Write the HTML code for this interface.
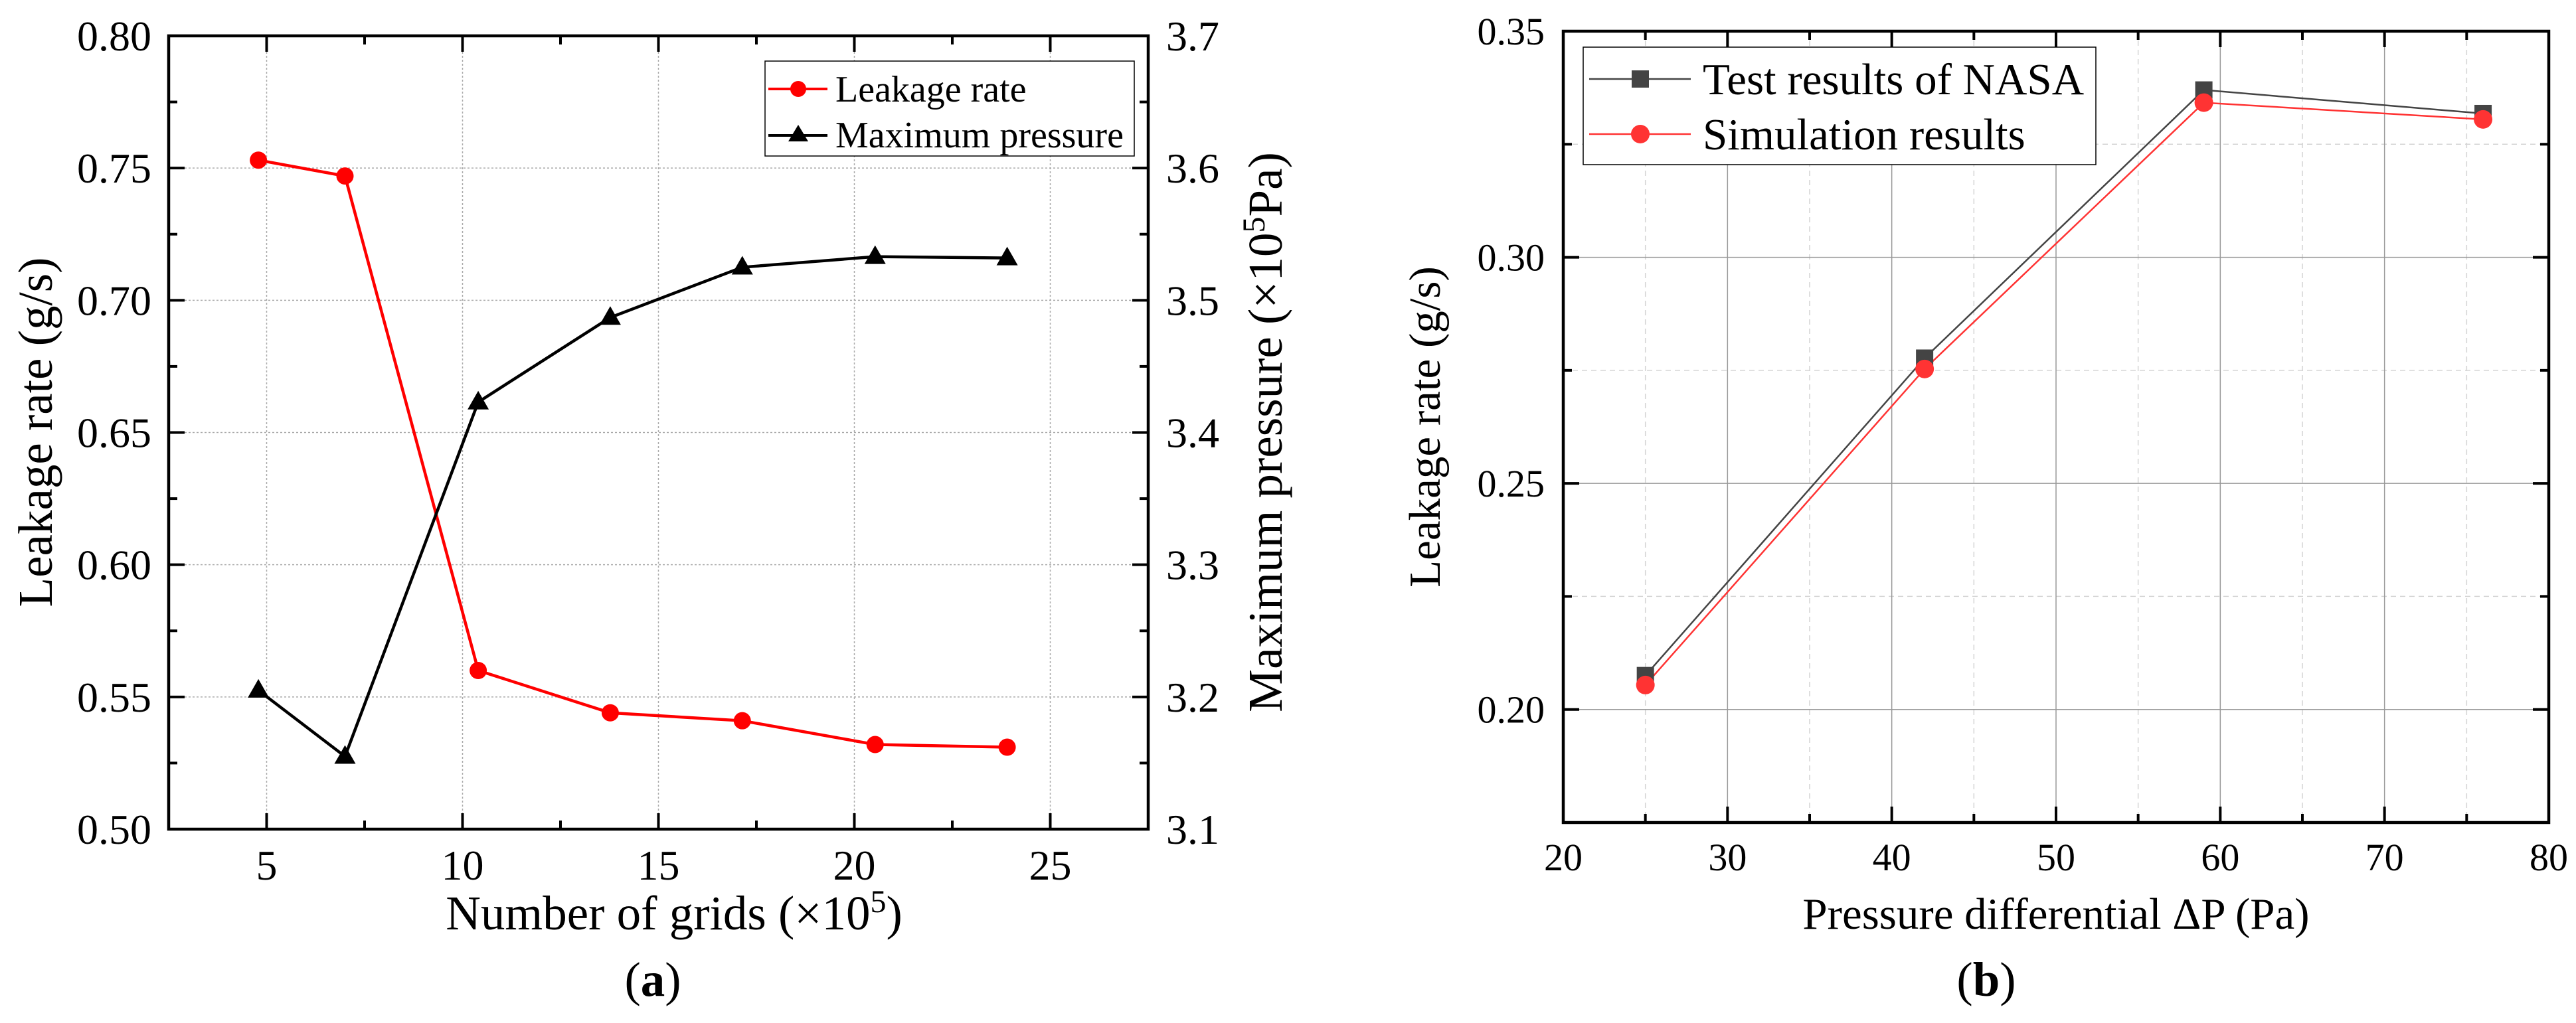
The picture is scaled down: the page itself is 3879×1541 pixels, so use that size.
<!DOCTYPE html>
<html><head><meta charset="utf-8">
<style>
html,body{margin:0;padding:0;background:#fff;font-family:"Liberation Serif","Times New Roman",serif;}
svg, svg text{font-family:"Liberation Serif","Times New Roman",serif;}
svg{display:block;}
</style></head>
<body>
<svg id="fig" width="3879" height="1541" viewBox="0 0 3879 1541" xmlns="http://www.w3.org/2000/svg" font-family="Liberation Serif, serif">
<rect width="3879" height="1541" fill="#fff"/>
<g id="chartA"></g>
<g id="chartB"></g>
</svg>
<script>
// ---- Chart (a) data ----
const gridsX = [4.79, 7.0, 10.4, 13.77, 17.14, 20.53, 23.9];
const leakageA = [0.753, 0.747, 0.560, 0.544, 0.541, 0.532, 0.531];
const pressureA = [3.205, 3.155, 3.423, 3.487, 3.525, 3.533, 3.532];
const aXTicks = [5, 10, 15, 20, 25];
const aYTicks = ["0.50","0.55","0.60","0.65","0.70","0.75","0.80"];
const aY2Ticks = ["3.1","3.2","3.3","3.4","3.5","3.6","3.7"];
// ---- Chart (b) data ----
const dpX = [25, 42, 59, 76];
const nasaB = [0.2075, 0.2777, 0.337, 0.3318];
const simB = [0.2054, 0.2753, 0.3342, 0.3305];
const bXTicks = [20, 30, 40, 50, 60, 70, 80];
const bYTicks = ["0.20","0.25","0.30","0.35"];

const NS = "http://www.w3.org/2000/svg";
const FONT = '"Liberation Serif", "Times New Roman", serif';
function mk(parent, tag, attrs, text){
  const e = document.createElementNS(NS, tag);
  for (const k in attrs) e.setAttribute(k, attrs[k]);
  if (tag === 'text') e.style.fontFamily = FONT;
  if (text !== undefined) e.textContent = text;
  parent.appendChild(e);
  return e;
}

// ===== Chart A =====
(function(){
  const g = document.getElementById('chartA');
  const L=254, R=1729, T=54, B=1249;
  const x = v => L + (v-2.5)/25*(R-L);
  const y = v => B - (v-0.50)/0.30*(B-T);
  const y2 = v => B - (v-3.1)/0.6*(B-T);
  aXTicks.forEach(t=>{
    const l = mk(g,'line',{x1:x(t),x2:x(t),y1:T,y2:B,stroke:'#aaa','stroke-width':1.5,'stroke-dasharray':'3,3'});
    
    
  });
  aYTicks.forEach(t=>{
    const v=parseFloat(t); if(v<=0.5||v>=0.8) return;
    const l = mk(g,'line',{x1:L,x2:R,y1:y(v),y2:y(v),stroke:'#aaa','stroke-width':1.5,'stroke-dasharray':'3,3'});
    
    
  });
  const tk = mk(g,'g',{stroke:'#000','stroke-width':4});
  
  
  for(let v=5; v<=27.5; v+=2.5){
    const len = (v%5===0)?24:13;
    mk(tk,'line',{x1:x(v),x2:x(v),y1:B,y2:B-len});
    mk(tk,'line',{x1:x(v),x2:x(v),y1:T,y2:T+len});
  }
  for(let i=1;i<12;i++){
    const v=0.5+i*0.025, len=(i%2===0)?24:13;
    mk(tk,'line',{x1:L,x2:L+len,y1:y(v),y2:y(v)});
    mk(tk,'line',{x1:R,x2:R-len,y1:y(v),y2:y(v)});
  }
  const fr = mk(g,'rect',{x:L,y:T,width:R-L,height:B-T,fill:'none',stroke:'#000','stroke-width':4.5});
  
  
  aXTicks.forEach(t=>{
    const e = mk(g,'text',{x:x(t),y:1325,'font-size':64,'text-anchor':'middle'},String(t));
    
    
  });
  aYTicks.forEach(t=>{
    const e = mk(g,'text',{x:228,y:y(parseFloat(t))+22,'font-size':64,'text-anchor':'end'},t);
    
    
  });
  aY2Ticks.forEach(t=>{
    const e = mk(g,'text',{x:1756,y:y2(parseFloat(t))+22,'font-size':64,'text-anchor':'start'},t);
    
    
  });
  let e = mk(g,'text',{x:0,y:0,'font-size':73,'text-anchor':'middle',transform:'translate(78,651) rotate(-90)'},'Leakage rate (g/s)');
  
  
  e = mk(g,'text',{x:0,y:0,'font-size':73,'text-anchor':'middle',transform:'translate(1930,651) rotate(-90)'});
  
  
  e.innerHTML = 'Maximum pressure (×10<tspan dy="-26" font-size="48">5</tspan><tspan dy="26">Pa)</tspan>';
  e = mk(g,'text',{x:1015,y:1400,'font-size':73,'text-anchor':'middle'});
  
  
  e.innerHTML = 'Number of grids (×10<tspan dy="-26" font-size="48">5</tspan><tspan dy="26">)</tspan>';
  e = mk(g,'text',{x:983,y:1500,'font-size':73,'text-anchor':'middle'});
  
  
  e.innerHTML = '(<tspan font-weight="bold">a</tspan>)';
  const pl = mk(g,'polyline',{points:gridsX.map((v,i)=>x(v)+','+y(leakageA[i])).join(' '),fill:'none',stroke:'#f00','stroke-width':4.5});
  
  
  const pp = mk(g,'polyline',{points:gridsX.map((v,i)=>x(v)+','+y2(pressureA[i])).join(' '),fill:'none',stroke:'#000','stroke-width':4.5});
  
  
  gridsX.forEach((v,i)=>{
    const c = mk(g,'circle',{cx:x(v),cy:y(leakageA[i]),r:13,fill:'#f00'});
    
    
    const px=x(v), py=y2(pressureA[i]);
    const t = mk(g,'polygon',{points:`${px},${py-17} ${px-16},${py+11} ${px+16},${py+11}`,fill:'#000'});
    
    
  });
  const lg = mk(g,'g',{});
  
  
  mk(lg,'rect',{x:1152,y:92,width:556,height:143,fill:'#fff',stroke:'#000','stroke-width':1.5});
  mk(lg,'line',{x1:1157,x2:1246,y1:134,y2:134,stroke:'#f00','stroke-width':4});
  mk(lg,'circle',{cx:1202,cy:134,r:12,fill:'#f00'});
  let le = mk(lg,'text',{x:1258,y:153,'font-size':56},'Leakage rate');
  
  
  mk(lg,'line',{x1:1157,x2:1246,y1:204,y2:204,stroke:'#000','stroke-width':4});
  mk(lg,'polygon',{points:'1202,188 1187,213 1217,213',fill:'#000'});
  le = mk(lg,'text',{x:1258,y:222,'font-size':56},'Maximum pressure');
  
  
})();

// ===== Chart B =====
(function(){
  const g = document.getElementById('chartB');
  const L=2354, R=3838, T=47, B=1239;
  const x = v => L + (v-20)/60*(R-L);
  const y = v => B - (v-0.175)/0.175*(B-T);
  for(let v=25; v<80; v+=10){
    const l = mk(g,'line',{x1:x(v),x2:x(v),y1:T,y2:B,stroke:'#d4d4d4','stroke-width':1.5,'stroke-dasharray':'8,6'});
    
    
  }
  [0.225,0.275,0.325].forEach(v=>{
    const l = mk(g,'line',{x1:L,x2:R,y1:y(v),y2:y(v),stroke:'#d4d4d4','stroke-width':1.5,'stroke-dasharray':'8,6'});
    
    
  });
  bXTicks.forEach(t=>{
    if(t===20||t===80) return;
    const l = mk(g,'line',{x1:x(t),x2:x(t),y1:T,y2:B,stroke:'#999','stroke-width':1.5});
    
    
  });
  bYTicks.forEach(t=>{
    const v=parseFloat(t); if(v>=0.35) return;
    const l = mk(g,'line',{x1:L,x2:R,y1:y(v),y2:y(v),stroke:'#999','stroke-width':1.5});
    
    
  });
  const tk = mk(g,'g',{stroke:'#000','stroke-width':4});
  
  
  for(let v=25; v<80; v+=5){
    const len=(v%10===0)?24:13;
    mk(tk,'line',{x1:x(v),x2:x(v),y1:B,y2:B-len});
    mk(tk,'line',{x1:x(v),x2:x(v),y1:T,y2:T+len});
  }
  [0.2,0.225,0.25,0.275,0.3,0.325].forEach((v,i)=>{
    const len=(i%2===0)?24:13;
    mk(tk,'line',{x1:L,x2:L+len,y1:y(v),y2:y(v)});
    mk(tk,'line',{x1:R,x2:R-len,y1:y(v),y2:y(v)});
  });
  const fr = mk(g,'rect',{x:L,y:T,width:R-L,height:B-T,fill:'none',stroke:'#000','stroke-width':4.5});
  
  
  bXTicks.forEach(t=>{
    const e = mk(g,'text',{x:x(t),y:1311,'font-size':58,'text-anchor':'middle'},String(t));
    
    
  });
  bYTicks.forEach(t=>{
    const e = mk(g,'text',{x:2326,y:y(parseFloat(t))+20,'font-size':58,'text-anchor':'end'},t);
    
    
  });
  let e = mk(g,'text',{x:0,y:0,'font-size':67,'text-anchor':'middle',transform:'translate(2168,643) rotate(-90)'},'Leakage rate (g/s)');
  
  
  e = mk(g,'text',{x:3096,y:1399,'font-size':67,'text-anchor':'middle'},'Pressure differential ΔP (Pa)');
  
  
  e = mk(g,'text',{x:2991,y:1500,'font-size':73,'text-anchor':'middle'});
  
  
  e.innerHTML = '(<tspan font-weight="bold">b</tspan>)';
  const pn = mk(g,'polyline',{points:dpX.map((v,i)=>x(v)+','+y(nasaB[i])).join(' '),fill:'none',stroke:'#444','stroke-width':2.5});
  
  
  const ps = mk(g,'polyline',{points:dpX.map((v,i)=>x(v)+','+y(simB[i])).join(' '),fill:'none',stroke:'#f33','stroke-width':2.5});
  
  
  dpX.forEach((v,i)=>{
    const s = mk(g,'rect',{x:x(v)-13,y:y(nasaB[i])-13,width:26,height:26,fill:'#444'});
    
    
  });
  dpX.forEach((v,i)=>{
    const c = mk(g,'circle',{cx:x(v),cy:y(simB[i]),r:14,fill:'#f33'});
    
    
  });
  const lg = mk(g,'g',{});
  
  
  mk(lg,'rect',{x:2384,y:71,width:772,height:177,fill:'#fff',stroke:'#000','stroke-width':1.5});
  mk(lg,'line',{x1:2393,x2:2546,y1:119,y2:119,stroke:'#444','stroke-width':2.5});
  mk(lg,'rect',{x:2457,y:106,width:26,height:26,fill:'#444'});
  let le = mk(lg,'text',{x:2564,y:142,'font-size':67},'Test results of NASA');
  
  
  mk(lg,'line',{x1:2393,x2:2546,y1:202,y2:202,stroke:'#f33','stroke-width':2.5});
  mk(lg,'circle',{cx:2470,cy:202,r:14,fill:'#f33'});
  le = mk(lg,'text',{x:2564,y:225,'font-size':67},'Simulation results');
  
  
})();
</script>
</body></html>
